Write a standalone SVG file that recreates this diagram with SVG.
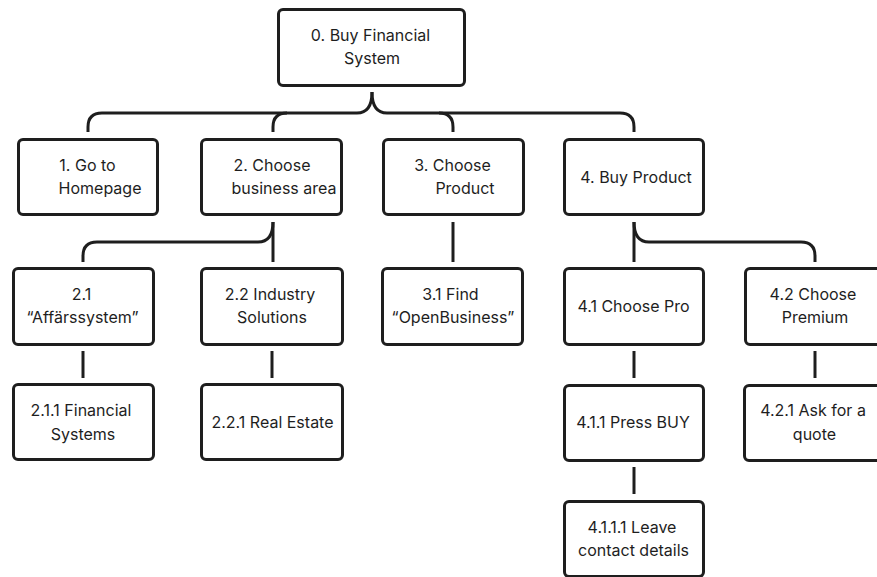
<svg xmlns="http://www.w3.org/2000/svg" width="877" height="577" viewBox="0 0 877 577">
  <style>
    .box { fill: #ffffff; stroke: #1e1e1e; stroke-width: 3; }
    .wire { fill: none; stroke: #1e1e1e; stroke-width: 3; stroke-linecap: butt; }
    text { font-family: Inter, "Noto Sans", "Liberation Sans", sans-serif; font-size: 16px; fill: #1e1e1e; text-anchor: middle; }
  </style>
  <rect x="0" y="0" width="877" height="577" fill="#ffffff"/>

  <!-- connectors -->
  <g id="connectors">
    <!-- brace under the root -->
    <path class="wire" d="M372,92 Q372,113 357,113 H102 Q88,113 88,127 V132"/>
    <path class="wire" d="M287,113 Q273,113 273,127 V132"/>
    <path class="wire" d="M372,92 Q372,113 387,113 H620 Q634,113 634,127 V132"/>
    <path class="wire" d="M439,113 Q453,113 453,127 V132"/>
    <!-- under 2 -->
    <path class="wire" d="M273,222 V262"/>
    <path class="wire" d="M273,222 Q273,242 258,242 H97 Q83,242 83,256 V262"/>
    <!-- under 3 -->
    <path class="wire" d="M453,222 V262"/>
    <!-- under 4 -->
    <path class="wire" d="M634,222 V262"/>
    <path class="wire" d="M634,222 Q634,242 649,242 H801 Q815,242 815,256 V262"/>
    <!-- row 2 to row 3 -->
    <path class="wire" d="M83,351 V378"/>
    <path class="wire" d="M272,351 V378"/>
    <path class="wire" d="M634,351 V378"/>
    <path class="wire" d="M815,351 V378"/>
    <!-- row 3 to row 4 -->
    <path class="wire" d="M634,467 V494"/>
  </g>

  <g id="n0">
    <rect class="box" x="278.5" y="9.5" width="186" height="76" rx="4.5"/>
    <text x="370.5" y="41">0. Buy Financial</text>
    <text x="372" y="64">System</text>
  </g>

  <g id="n1">
    <rect class="box" x="18.5" y="139.5" width="139" height="75" rx="4.5"/>
    <text x="87.5" y="171">1. Go to</text>
    <text x="100" y="194">Homepage</text>
  </g>
  <g id="n2">
    <rect class="box" x="201.5" y="139.5" width="140" height="75" rx="4.5"/>
    <text x="272" y="171">2. Choose</text>
    <text x="284" y="194">business area</text>
  </g>
  <g id="n3">
    <rect class="box" x="383.5" y="139.5" width="140" height="75" rx="4.5"/>
    <text x="452.5" y="171">3. Choose</text>
    <text x="465" y="194">Product</text>
  </g>
  <g id="n4">
    <rect class="box" x="564.5" y="139.5" width="139" height="75" rx="4.5"/>
    <text x="636" y="183">4. Buy Product</text>
  </g>

  <g id="n2_1">
    <rect class="box" x="13.5" y="268.5" width="140" height="76" rx="4.5"/>
    <text x="81.5" y="300">2.1</text>
    <text x="82.5" y="323">“Affärssystem”</text>
  </g>
  <g id="n2_2">
    <rect class="box" x="201.5" y="268.5" width="141" height="76" rx="4.5"/>
    <text x="270" y="300">2.2 Industry</text>
    <text x="272" y="323">Solutions</text>
  </g>
  <g id="n3_1">
    <rect class="box" x="382.5" y="268.5" width="140" height="76" rx="4.5"/>
    <text x="450.5" y="300">3.1 Find</text>
    <text x="453" y="323">“OpenBusiness”</text>
  </g>
  <g id="n4_1">
    <rect class="box" x="564.5" y="268.5" width="139" height="76" rx="4.5"/>
    <text x="633.5" y="312">4.1 Choose Pro</text>
  </g>
  <g id="n4_2">
    <rect class="box" x="745.5" y="268.5" width="140" height="76" rx="4.5"/>
    <text x="813" y="300">4.2 Choose</text>
    <text x="815" y="323">Premium</text>
  </g>

  <g id="n2_1_1">
    <rect class="box" x="13.5" y="384.5" width="140" height="75" rx="4.5"/>
    <text x="81" y="416">2.1.1 Financial</text>
    <text x="83" y="440">Systems</text>
  </g>
  <g id="n2_2_1">
    <rect class="box" x="201.5" y="384.5" width="141" height="75" rx="4.5"/>
    <text x="272.5" y="428">2.2.1 Real Estate</text>
  </g>
  <g id="n4_1_1">
    <rect class="box" x="564.5" y="385.5" width="139" height="75" rx="4.5"/>
    <text x="633" y="428">4.1.1 Press BUY</text>
  </g>
  <g id="n4_2_1">
    <rect class="box" x="744.5" y="385.5" width="140" height="75" rx="4.5"/>
    <text x="813" y="416">4.2.1 Ask for a</text>
    <text x="814.5" y="440">quote</text>
  </g>

  <g id="n4_1_1_1">
    <rect class="box" x="564.5" y="501.5" width="139" height="75" rx="4.5"/>
    <text x="632" y="533">4.1.1.1 Leave</text>
    <text x="633.5" y="556">contact details</text>
  </g>
</svg>
